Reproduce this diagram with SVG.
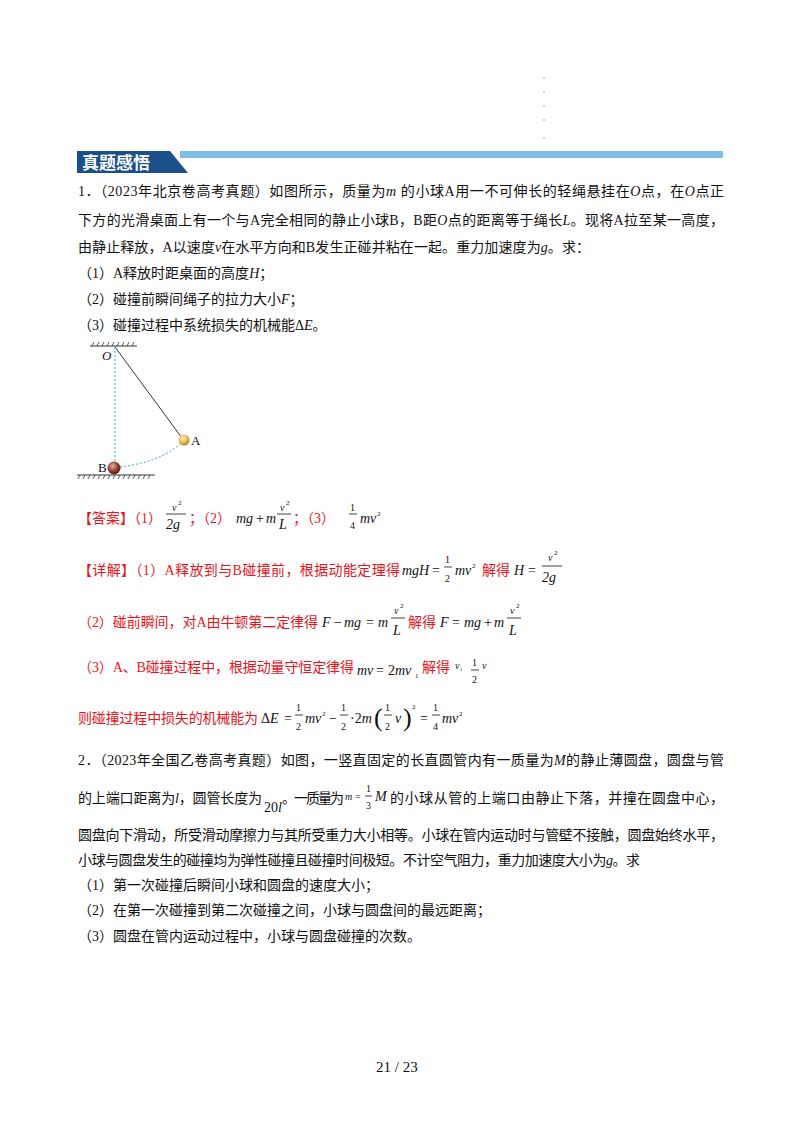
<svg xmlns="http://www.w3.org/2000/svg" width="800" height="1132" viewBox="0 0 800 1132">
<style>
text{font-family:"Liberation Serif","Noto Sans CJK SC",serif;font-size:14px;fill:#111}
.r{fill:#e8141c}
.i{font-style:italic}
.s{font-size:10px}
.hd{font-family:"Noto Sans CJK SC",sans-serif;font-weight:bold;font-size:17px;fill:#fff}
.fl{stroke:#111;stroke-width:0.8}
</style>
<defs>
<radialGradient id="ga" cx="0.4" cy="0.35" r="0.7"><stop offset="0" stop-color="#fff3c0"/><stop offset="0.6" stop-color="#e2b64e"/><stop offset="1" stop-color="#a07820"/></radialGradient>
<radialGradient id="gb" cx="0.4" cy="0.35" r="0.7"><stop offset="0" stop-color="#e8b0a0"/><stop offset="0.6" stop-color="#8a3a2a"/><stop offset="1" stop-color="#4a1a10"/></radialGradient>
</defs>
<rect width="800" height="1132" fill="#fff"/>
<g fill="#999"><circle cx="544" cy="78" r="0.8"/><circle cx="544" cy="92" r="0.8"/><circle cx="544" cy="106" r="0.8"/><circle cx="544" cy="120" r="0.8"/><circle cx="544" cy="138" r="0.8"/></g>
<g id="header">
<rect x="180" y="151" width="543" height="7" fill="#7fbfe6"/>
<polygon points="77,151 170,151 188,173 77,173" fill="#1a4f8a"/>
<text x="82" y="169" class="hd">真题感悟</text>
</g>
<g id="q1">
<text x="78" y="196" textLength="646" lengthAdjust="spacing">1．（2023年北京卷高考真题）如图所示，质量为<tspan class="i">m</tspan> 的小球A用一不可伸长的轻绳悬挂在<tspan class="i">O</tspan>点，在<tspan class="i">O</tspan>点正</text>
<text x="78" y="225" textLength="646" lengthAdjust="spacing">下方的光滑桌面上有一个与A完全相同的静止小球B，B距<tspan class="i">O</tspan>点的距离等于绳长<tspan class="i">L</tspan>。现将A拉至某一高度，</text>
<text x="78" y="252" textLength="512" lengthAdjust="spacing">由静止释放，A以速度<tspan class="i">v</tspan>在水平方向和B发生正碰并粘在一起。重力加速度为<tspan class="i">g</tspan>。求：</text>
<text x="78" y="278">（1）A释放时距桌面的高度<tspan class="i">H</tspan>；</text>
<text x="78" y="304">（2）碰撞前瞬间绳子的拉力大小<tspan class="i">F</tspan>；</text>
<text x="78" y="330">（3）碰撞过程中系统损失的机械能Δ<tspan class="i">E</tspan>。</text>
</g>
<g id="figure">
<line x1="90" y1="346" x2="137" y2="346" stroke="#333" stroke-width="1"/>
<path d="M92 346l2-4M97 346l2-4M102 346l2-4M107 346l2-4M112 346l2-4M117 346l2-4M122 346l2-4M127 346l2-4M132 346l2-4" stroke="#333" stroke-width="0.8"/>
<line x1="115" y1="347" x2="182" y2="438" stroke="#333" stroke-width="1"/>
<line x1="115" y1="347" x2="115" y2="462" stroke="#3aa0d0" stroke-width="1" stroke-dasharray="2,2"/>
<path d="M120 467 Q160 462 180 444" fill="none" stroke="#3aa0d0" stroke-width="1" stroke-dasharray="2,2"/>
<line x1="77" y1="475" x2="155" y2="475" stroke="#333" stroke-width="1"/>
<path d="M78 479l2-4M83 479l2-4M88 479l2-4M93 479l2-4M98 479l2-4M103 479l2-4M108 479l2-4M113 479l2-4M118 479l2-4M123 479l2-4M128 479l2-4M133 479l2-4M138 479l2-4M143 479l2-4M148 479l2-4" stroke="#333" stroke-width="0.8"/>
<circle cx="184" cy="440" r="5.5" fill="url(#ga)"/>
<circle cx="114" cy="468" r="6.5" fill="url(#gb)"/>
<text x="102" y="360" class="i" style="font-size:13px">O</text>
<text x="191" y="445" style="font-size:13px">A</text>
<text x="98" y="472" style="font-size:13px">B</text>
</g>
<g id="answer">
<text x="78" y="523" class="r" textLength="84" lengthAdjust="spacing">【答案】（1）</text>
<text x="172" y="511" class="i s">v</text><text x="178" y="505" style="font-size:7px">2</text>
<line x1="166" y1="514" x2="186" y2="514" class="fl"/>
<text x="166" y="529" class="i">2g</text>
<text x="189" y="523" class="r">；（2）</text>
<text x="236" y="523" class="i">mg</text><text x="256" y="523">+</text><text x="266" y="523" class="i">m</text>
<text x="280" y="511" class="i s">v</text><text x="286" y="505" style="font-size:7px">2</text>
<line x1="277" y1="514" x2="291" y2="514" class="fl"/>
<text x="279" y="529" class="i">L</text>
<text x="293" y="523" class="r">；（3）</text>
<text x="350" y="511" class="s">1</text><line x1="349" y1="514" x2="357" y2="514" class="fl"/><text x="350" y="529" class="s">4</text>
<text x="360" y="523" class="i">mv</text><text x="377" y="516" style="font-size:7px">2</text>
</g>
<g id="detail">
<text x="78" y="575" class="r" textLength="322" lengthAdjust="spacing">【详解】（1）A释放到与B碰撞前，根据动能定理得</text>
<text x="402" y="575" class="i">mgH</text><text x="432" y="575">=</text>
<text x="445" y="563" class="s">1</text><line x1="444" y1="567" x2="452" y2="567" class="fl"/><text x="445" y="582" class="s">2</text>
<text x="455" y="575" class="i">mv</text><text x="472" y="568" style="font-size:7px">2</text>
<text x="482" y="575" class="r">解得</text>
<text x="514" y="575" class="i">H</text><text x="528" y="575">=</text>
<text x="548" y="561" class="i s">v</text><text x="554" y="555" style="font-size:7px">2</text>
<line x1="542" y1="566" x2="562" y2="566" class="fl"/><text x="542" y="582" class="i">2g</text>

<text x="78" y="627" class="r" textLength="240" lengthAdjust="spacing">（2）碰前瞬间，对A由牛顿第二定律得</text>
<text x="322" y="627" class="i">F</text><text x="334" y="627">−</text><text x="344" y="627" class="i">mg</text><text x="366" y="627">=</text><text x="378" y="627" class="i">m</text>
<text x="394" y="614" class="i s">v</text><text x="400" y="608" style="font-size:7px">2</text>
<line x1="391" y1="618" x2="405" y2="618" class="fl"/><text x="393" y="635" class="i">L</text>
<text x="408" y="627" class="r">解得</text>
<text x="440" y="627" class="i">F</text><text x="452" y="627">=</text><text x="464" y="627" class="i">mg</text><text x="484" y="627">+</text><text x="494" y="627" class="i">m</text>
<text x="510" y="614" class="i s">v</text><text x="516" y="608" style="font-size:7px">2</text>
<line x1="507" y1="618" x2="521" y2="618" class="fl"/><text x="509" y="635" class="i">L</text>

<text x="78" y="672" class="r" textLength="276" lengthAdjust="spacing">（3）A、B碰撞过程中，根据动量守恒定律得</text>
<text x="357" y="675" class="i">mv</text><text x="376" y="675">=</text><text x="388" y="675">2<tspan class="i">mv</tspan></text><text x="415" y="678" style="font-size:7px">1</text>
<text x="422" y="672" class="r">解得</text>
<text x="455" y="669" class="i s">v</text><text x="460" y="671" style="font-size:5px">1</text>
<text x="472" y="666" class="s">1</text><line x1="471" y1="670" x2="479" y2="670" class="fl"/><text x="472" y="683" class="s">2</text>
<text x="482" y="669" class="i s">v</text>

<text x="78" y="723" class="r" textLength="180" lengthAdjust="spacing">则碰撞过程中损失的机械能为</text>
<text x="261" y="723">Δ<tspan class="i">E</tspan></text><text x="284" y="723">=</text>
<text x="296" y="711" class="s">1</text><line x1="295" y1="715" x2="303" y2="715" class="fl"/><text x="296" y="730" class="s">2</text>
<text x="305" y="723" class="i">mv</text><text x="322" y="716" style="font-size:7px">2</text>
<text x="329" y="723">−</text>
<text x="341" y="711" class="s">1</text><line x1="340" y1="715" x2="348" y2="715" class="fl"/><text x="341" y="730" class="s">2</text>
<text x="350" y="723">·2<tspan class="i">m</tspan></text>
<text x="374" y="726" style="font-size:26px;font-weight:100">(</text>
<text x="385" y="711" class="s">1</text><line x1="384" y1="715" x2="392" y2="715" class="fl"/><text x="385" y="730" class="s">2</text>
<text x="395" y="723" class="i">v</text>
<text x="403" y="726" style="font-size:26px;font-weight:100">)</text>
<text x="412" y="709" style="font-size:7px">2</text>
<text x="420" y="723">=</text>
<text x="433" y="711" class="s">1</text><line x1="432" y1="715" x2="440" y2="715" class="fl"/><text x="433" y="730" class="s">4</text>
<text x="442" y="723" class="i">mv</text><text x="459" y="716" style="font-size:7px">2</text>
</g>
<g id="q2">
<text x="78" y="765" textLength="646" lengthAdjust="spacing">2．（2023年全国乙卷高考真题）如图，一竖直固定的长直圆管内有一质量为<tspan class="i">M</tspan>的静止薄圆盘，圆盘与管</text>
<text x="78" y="803" textLength="184" lengthAdjust="spacing">的上端口距离为<tspan class="i">l</tspan>，圆管长度为</text>
<text x="264" y="812">20<tspan class="i">l</tspan></text>
<text x="282" y="803" textLength="62" lengthAdjust="spacing">。一质量为</text>
<text x="345" y="800" class="i s">m</text><text x="355" y="800" class="s">=</text>
<text x="366" y="792" class="s">1</text><line x1="365" y1="796" x2="372" y2="796" class="fl"/><text x="366" y="809" class="s">3</text>
<text x="375" y="801" class="i">M</text>
<text x="390" y="803" textLength="334" lengthAdjust="spacing">的小球从管的上端口由静止下落，并撞在圆盘中心，</text>
<text x="78" y="840" textLength="646" lengthAdjust="spacing">圆盘向下滑动，所受滑动摩擦力与其所受重力大小相等。小球在管内运动时与管壁不接触，圆盘始终水平，</text>
<text x="78" y="865" textLength="562" lengthAdjust="spacing">小球与圆盘发生的碰撞均为弹性碰撞且碰撞时间极短。不计空气阻力，重力加速度大小为<tspan class="i">g</tspan>。求</text>
<text x="78" y="890">（1）第一次碰撞后瞬间小球和圆盘的速度大小；</text>
<text x="78" y="915">（2）在第一次碰撞到第二次碰撞之间，小球与圆盘间的最远距离；</text>
<text x="78" y="941">（3）圆盘在管内运动过程中，小球与圆盘碰撞的次数。</text>
</g>
<text x="376" y="1072" style="font-size:15px">21  /  23</text>
</svg>
